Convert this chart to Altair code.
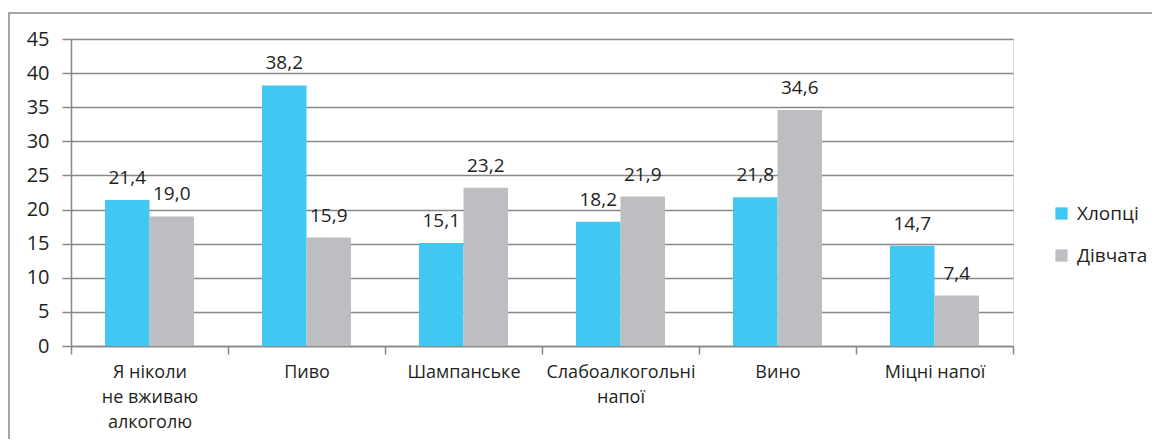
import altair as alt
import pandas as pd

categories = ["Я ніколи|не вживаю|алкоголю", "Пиво", "Шампанське", "Слабоалкогольні|напої", "Вино", "Міцні напої"]
series = ["Хлопці", "Дівчата"]
boys = [21.4, 38.2, 15.1, 18.2, 21.8, 14.7]
girls = [19.0, 15.9, 23.2, 21.9, 34.6, 7.4]
colors = ["#41C8F2", "#BDBEC1"]

rows = []
for i, c in enumerate(categories):
    rows.append({"cat": c, "series": series[0], "value": boys[i]})
    rows.append({"cat": c, "series": series[1], "value": girls[i]})
df = pd.DataFrame(rows)

FONT = "Open Sans"
TXT = "#231F20"
W, H = 942, 307

xenc = alt.X("cat:N", sort=categories,
             scale=alt.Scale(paddingInner=0, paddingOuter=0),
             axis=alt.Axis(title=None, labelAngle=0, tickBand="extent",
                           labelExpr="split(datum.label, '|')",
                           labelFont=FONT, labelFontSize=18, labelColor=TXT,
                           labelLineHeight=25, labelPadding=9,
                           domainColor="#888888", domainWidth=1.5,
                           tickColor="#888888", tickWidth=1.5, tickSize=8,
                           grid=False, labelBaseline="top"))

yenc = alt.Y("value:Q", scale=alt.Scale(domain=[0, 45], nice=False),
             axis=alt.Axis(title=None, values=list(range(0, 50, 5)), labelOverlap=False,
                           labelFont=FONT, labelFontSize=20, labelColor=TXT,
                           labelPadding=13, tickSize=9, tickColor="#888888",
                           tickWidth=1.5, domainColor="#888888", domainWidth=1.5,
                           gridColor="#888888", gridWidth=1.5))

base = alt.Chart(df).encode(
    x=xenc,
    xOffset=alt.XOffset("series:N", sort=series,
                        scale=alt.Scale(paddingInner=0, paddingOuter=0.764)),
    y=yenc,
)

bars = base.mark_bar().encode(
    color=alt.Color("series:N", sort=series,
                    scale=alt.Scale(domain=series, range=colors),
                    legend=alt.Legend(title=None, orient="none", legendX=981, legendY=165,
                                      symbolType="square", symbolSize=150,
                                      symbolStrokeWidth=0, labelFont=FONT,
                                      labelFontSize=19, labelColor=TXT,
                                      rowPadding=22, labelOffset=6)),
)

labels = base.mark_text(baseline="bottom", dy=-12, font=FONT, fontSize=19, color=TXT).transform_calculate(
    lbl="replace(format(datum.value, '.1f'), '.', ',')"
).encode(
    text=alt.Text("lbl:N"),
)

border = alt.Chart(pd.DataFrame({"a": [0]})).mark_rect(
    fill=None, stroke="#888888", strokeWidth=1.5, clip=False
).encode(
    x=alt.value(-62), x2=alt.value(1120), y=alt.value(-26), y2=alt.value(440)
)

chart = alt.layer(border, bars, labels).properties(
    width=W, height=H,
    autosize=alt.AutoSizeParams(type="none"),
    padding={"left": 63, "top": 31, "right": 139, "bottom": 93},
).configure_view(stroke=None).configure(background="white")

chart.save("out.html", embed_options={"renderer": "svg", "actions": False})
